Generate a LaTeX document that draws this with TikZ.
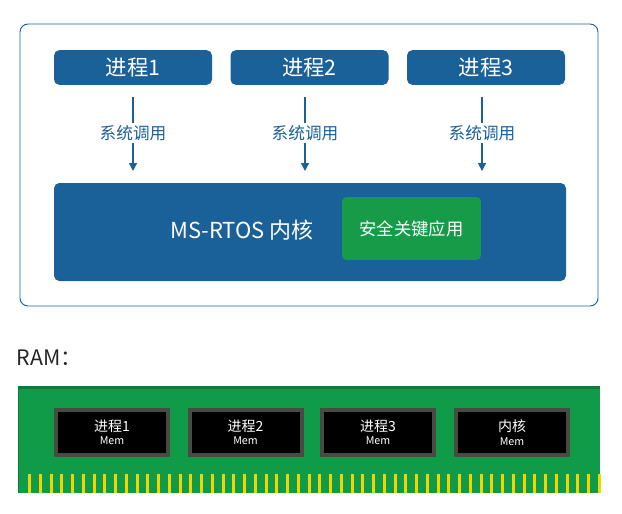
\documentclass[tikz,border=0pt]{standalone}
\usepackage{fontspec}
\setmainfont{Noto Sans CJK SC}
\usetikzlibrary{positioning, arrows.meta, calc}
\definecolor{osblue}{HTML}{1B6199}
\definecolor{osgreen}{HTML}{179B48}
\definecolor{ramgreen}{HTML}{109B48}
\definecolor{chipgray}{HTML}{4A4A44}
\definecolor{pingold}{HTML}{F2D400}
\begin{document}
\begin{tikzpicture}[
    x=0.75pt, y=-0.75pt,
    proc/.style={
        rectangle,
        fill=osblue,
        rounded corners=4pt,
        minimum width=118.5pt,
        minimum height=26pt,
        text=white,
        font=\fontsize{16}{18}\selectfont
    },
    call/.style={
        fill=white,
        text=osblue,
        inner sep=2pt,
        font=\fontsize{12.5}{14}\selectfont
    },
    arrow/.style={
        -{Triangle[length=6pt,width=6pt]},
        draw=osblue,
        line width=0.9pt
    },
    chip/.style={
        rectangle,
        fill=black,
        draw=chipgray,
        line width=3pt,
        minimum width=84pt,
        minimum height=34pt,
        text=white,
        align=center,
        font=\fontsize{10.5}{10}\selectfont
    }
]
\useasboundingbox (0,0) rectangle (622,514);

% ===== 外框 =====
\draw[osblue, line width=0.7pt, rounded corners=6pt, fill=white] (20,24) rectangle (598,306);

% ===== 进程节点 =====
\node[proc] (p1) at (133,67.5) {进程1};
\node[proc] (p2) at (309.5,67.5) {进程2};
\node[proc] (p3) at (486,67.5) {进程3};

% ===== 内核 =====
\node[rectangle, fill=osblue, rounded corners=4pt, minimum width=384pt, minimum height=73.5pt] (kern) at (310,232) {};
\node[text=white, font=\fontsize{16.5}{18}\selectfont] (kname) at (242,230) {MS-RTOS 内核};
\node[rectangle, fill=osgreen, rounded corners=3pt, minimum width=104pt, minimum height=47pt,
      text=white, font=\fontsize{13}{14}\selectfont] (safe) at (411.5,228.5) {安全关键应用};

% ===== 系统调用箭头 =====
\foreach \p/\x in {p1/133, p2/305, p3/482} {
    \coordinate (top\p) at (\x,97);
    \coordinate (bot\p) at (\x,171);
    \draw[arrow] (top\p) -- (bot\p);
    \node[call] at (\x,133) {系统调用};
}

% ===== RAM =====
\node[anchor=west, font=\fontsize{16}{18}\selectfont, text=black!85] (ram) at (12,358) {RAM：};
\fill[ramgreen!80!black] (18,386) rectangle (600,493);
\fill[ramgreen] (19,389) rectangle (600,493);
\foreach \i in {0,...,53} {
    \fill[pingold] ({28+\i*10.75},474) rectangle ({31+\i*10.75},493);
}
\node[chip] (m1) at (112,432.5) {进程1\\{\fontsize{8}{9}\selectfont Mem}};
\node[chip] (m2) at (245.5,432.5) {进程2\\{\fontsize{8}{9}\selectfont Mem}};
\node[chip] (m3) at (378,432.5) {进程3\\{\fontsize{8}{9}\selectfont Mem}};
\node[chip] (m4) at (512,432.5) {内核\\{\fontsize{8}{9}\selectfont Mem}};
\end{tikzpicture}
\end{document}
